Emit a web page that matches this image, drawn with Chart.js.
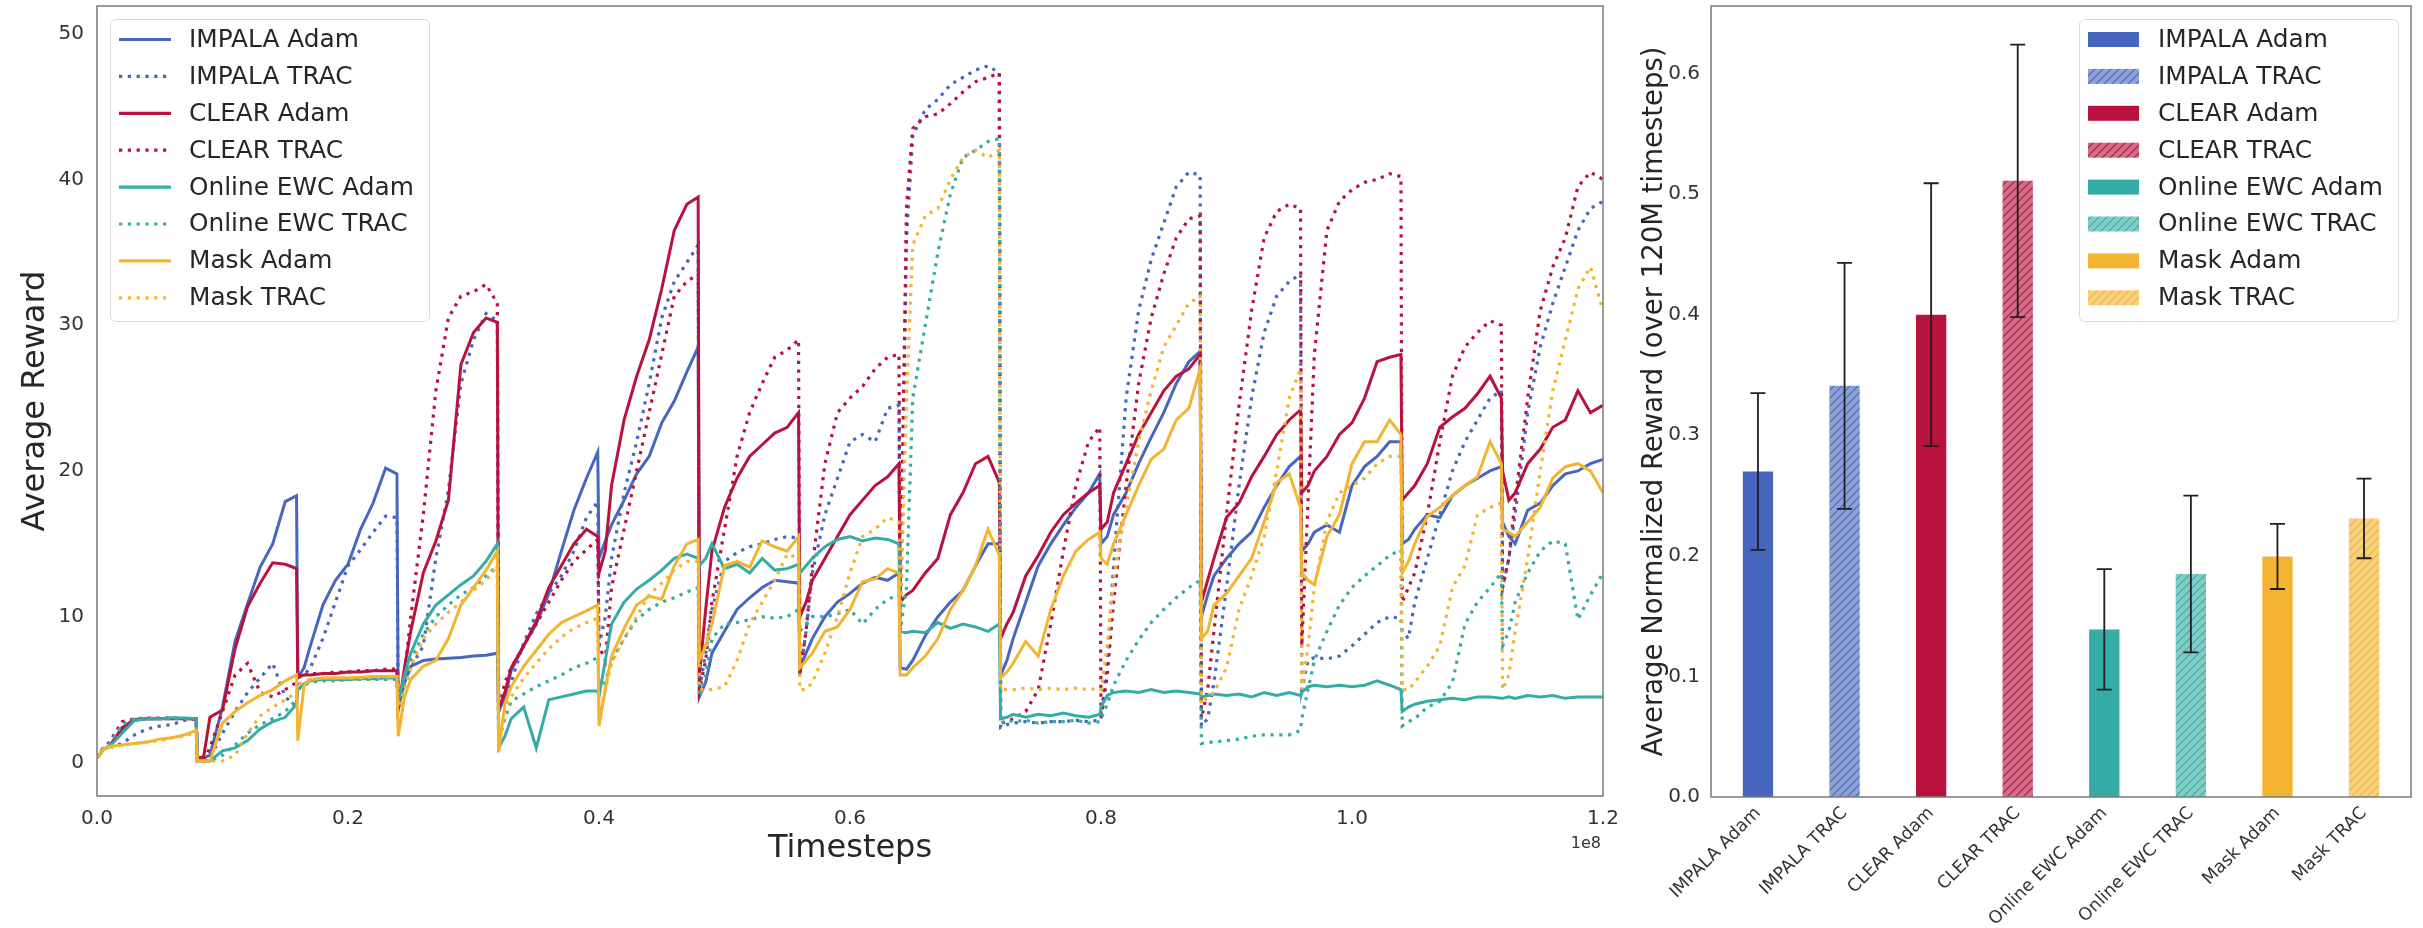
<!DOCTYPE html>
<html><head><meta charset="utf-8">
<script src="https://cdn.jsdelivr.net/npm/chart.js@4.4.1/dist/chart.umd.min.js"></script>
<style>
html,body{margin:0;padding:0;background:#fff;width:2423px;height:928px;overflow:hidden;}
#c1{position:absolute;left:0;top:0;}
#c2{position:absolute;left:1620px;top:0;}
</style></head><body>
<canvas id="c1" width="1620" height="928"></canvas>
<canvas id="c2" width="803" height="928"></canvas>
<script>
// ---------------- DATA ----------------
// time grid, in millions of timesteps (10 samples per 8M task segment)
const timeM = [
 0,0.5,1,2,3,4,5,6,7,7.9,
 8,8.5,9,10,11,12,13,14,15,15.9,
 16,16.5,17,18,19,20,21,22,23,23.9,
 24,24.5,25,26,27,28,29,30,31,31.9,
 32,32.5,33,34,35,36,37,38,39,39.9,
 40,40.5,41,42,43,44,45,46,47,47.9,
 48,48.5,49,50,51,52,53,54,55,55.9,
 56,56.5,57,58,59,60,61,62,63,63.9,
 64,64.5,65,66,67,68,69,70,71,71.9,
 72,72.5,73,74,75,76,77,78,79,79.9,
 80,80.5,81,82,83,84,85,86,87,87.9,
 88,88.5,89,90,91,92,93,94,95,95.9,
 96,96.5,97,98,99,100,101,102,103,103.9,
 104,104.5,105,106,107,108,109,110,111,111.9,
 112,112.5,113,114,115,116,117,118,119,120
];
const impalaAdam = [
 0.3,0.9,1.1,2.2,2.9,3.0,3.0,3.05,3.0,3.0,
 0.3,0.3,0.5,3.8,8.3,10.9,13.4,15.0,17.9,18.3,
 5.8,6.5,8.0,10.8,12.5,13.6,16.0,17.8,20.2,19.8,
 3.8,5.5,6.6,7.0,7.1,7.15,7.2,7.3,7.35,7.5,
 3.5,4.5,6.3,8.0,9.5,11.6,14.5,17.3,19.5,21.3,
 14.0,15.2,16.3,18.0,19.8,21.0,23.3,24.8,26.8,28.5,
 4.5,5.5,7.5,9.0,10.5,11.3,12.0,12.5,12.4,12.3,
 6.5,7.5,8.5,10.0,11.0,11.6,12.3,12.7,12.5,13.0,
 6.5,6.4,7.0,8.7,10.0,11.0,11.8,13.5,15.0,15.0,
 6.0,7.0,8.5,11.0,13.5,15.0,16.3,17.5,18.5,19.8,
 15.0,15.5,17.0,18.5,20.5,22.3,24.0,26.0,27.5,28.2,
 10.0,11.5,12.8,14.0,15.0,15.8,17.5,19.0,20.3,21.0,
 14.5,15.0,15.8,16.3,15.8,19.0,20.3,21.0,22.0,22.0,
 15.0,15.3,16.0,17.0,16.8,18.3,19.0,19.5,20.0,20.3,
 16.5,15.5,15.0,17.3,17.8,19.0,19.8,20.0,20.5,20.8
];
const impalaTrac = [
 0.3,0.9,1.1,1.3,1.9,2.3,2.5,2.6,2.9,3.0,
 0.1,0.1,0.3,2.0,3.5,4.8,5.8,6.8,4.5,3.8,
 5.8,6.0,6.5,8.5,11.0,13.5,14.6,15.8,16.9,16.8,
 3.8,5.5,6.5,8.0,14.0,18.7,26.0,29.0,30.8,30.3,
 3.5,4.5,5.5,8.2,10.2,11.6,12.8,14.5,16.8,17.9,
 8.0,10.0,14.0,18.5,22.0,26.0,30.5,33.0,34.3,35.5,
 5.0,7.5,10.5,13.8,14.4,14.8,15.0,15.3,15.5,15.4,
 6.0,9.0,13.0,17.0,19.5,22.0,22.5,22.0,24.3,24.5,
 9.0,36.0,43.0,44.8,45.5,46.5,47.0,47.5,47.8,47.3,
 2.4,2.6,2.7,2.8,2.7,2.8,2.8,2.9,2.8,2.9,
 3.0,7.0,13.5,25.0,31.0,34.5,37.0,39.5,40.5,40.3,
 2.5,3.0,5.5,12.0,19.0,25.0,29.5,32.0,33.0,33.5,
 5.0,7.0,7.2,7.1,7.3,8.0,8.8,9.6,10.0,9.9,
 9.0,8.5,11.0,14.0,17.0,20.0,22.0,23.5,25.0,25.5,
 12.0,14.0,17.0,24.0,28.5,31.5,34.0,36.5,38.0,38.5
];
const clearAdam = [
 0.3,0.9,1.1,2.4,2.95,3.0,3.0,3.0,3.0,3.0,
 0.3,0.4,3.1,3.6,7.8,10.7,12.3,13.7,13.6,13.3,
 5.9,6.0,6.0,6.1,6.1,6.2,6.2,6.3,6.3,6.3,
 3.5,6.5,9.0,13.0,15.2,18.0,27.3,29.5,30.5,30.2,
 3.7,4.8,6.5,8.0,9.7,12.0,13.5,15.0,16.0,15.5,
 13.0,14.5,19.0,23.5,26.5,29.0,32.5,36.5,38.3,38.8,
 6.0,10.5,14.5,17.5,19.5,21.0,21.8,22.6,23.0,24.0,
 10.0,11.0,12.5,14.0,15.5,17.0,18.0,19.0,19.6,20.5,
 11.0,11.5,11.8,13.0,14.0,17.0,18.5,20.5,21.0,19.2,
 8.5,9.5,10.3,12.8,14.2,15.8,17.0,17.8,18.5,19.0,
 16.0,16.5,18.5,20.5,22.5,24.0,25.5,26.5,27.0,28.0,
 11.0,12.5,14.0,16.8,17.8,19.6,21.0,22.5,23.5,24.2,
 18.5,19.0,20.0,21.0,22.5,23.3,25.0,27.5,27.8,28.0,
 18.0,18.5,19.0,20.5,23.0,23.7,24.3,25.3,26.5,25.0,
 20.0,18.0,18.5,20.5,21.5,23.0,23.5,25.5,24.0,24.5
];
const clearTrac = [
 0.3,1.0,1.4,2.8,3.0,3.05,3.05,3.05,3.0,3.0,
 0.1,0.2,1.0,3.5,6.0,6.8,4.8,4.5,5.0,5.5,
 5.9,6.0,6.1,6.1,6.2,6.2,6.3,6.3,6.4,6.4,
 3.5,6.0,10.0,17.0,25.5,30.5,32.0,32.3,32.8,31.5,
 3.5,5.5,6.5,8.0,9.5,11.0,12.5,13.8,14.6,15.3,
 8.0,7.0,12.0,16.0,20.0,24.0,28.0,32.0,33.0,33.5,
 5.0,7.0,11.0,16.0,21.0,24.0,26.0,27.8,28.3,29.0,
 6.0,9.0,13.5,20.5,24.0,25.0,25.8,27.0,27.8,28.0,
 10.0,38.0,43.5,44.3,44.5,45.2,46.0,46.7,47.0,47.3,
 2.7,2.8,3.0,3.5,5.0,9.5,14.5,19.0,22.0,23.0,
 3.0,6.0,11.0,19.0,26.0,30.5,33.5,36.0,37.3,37.5,
 3.0,5.0,9.0,17.0,24.5,31.0,36.0,37.8,38.3,38.0,
 8.0,18.0,28.0,36.5,38.5,39.3,39.8,40.0,40.4,40.2,
 11.0,12.0,13.0,17.0,22.0,26.5,28.5,29.5,30.3,30.0,
 12.0,14.0,18.0,25.0,31.0,34.0,36.0,39.5,40.5,40.0
];
const ewcAdam = [
 0.3,0.9,1.1,2.0,2.9,3.0,3.0,3.05,3.05,3.0,
 0.1,0.1,0.1,0.8,1.0,1.5,2.3,2.8,3.1,4.0,
 5.0,5.4,5.6,5.7,5.7,5.7,5.75,5.75,5.8,5.8,
 4.0,6.0,7.5,9.5,10.8,11.5,12.2,12.8,13.8,15.0,
 1.0,1.8,3.0,3.8,1.0,4.3,4.5,4.7,4.9,4.9,
 4.5,7.0,9.5,11.0,11.9,12.5,13.2,14.0,14.3,14.0,
 13.5,14.0,15.0,13.3,13.6,13.0,14.0,13.2,13.3,13.6,
 13.0,13.5,14.0,14.8,15.3,15.5,15.2,15.4,15.3,15.0,
 9.0,8.9,9.0,8.9,9.6,9.2,9.5,9.3,9.0,9.5,
 3.0,3.1,3.3,3.1,3.3,3.2,3.4,3.2,3.1,3.3,
 3.8,4.6,4.8,4.9,4.8,5.0,4.8,4.9,4.8,4.7,
 4.5,4.6,4.7,4.6,4.7,4.5,4.8,4.6,4.8,4.6,
 4.8,5.2,5.3,5.2,5.3,5.2,5.3,5.6,5.3,5.0,
 3.5,3.8,4.0,4.2,4.3,4.4,4.3,4.5,4.5,4.4,
 4.4,4.5,4.4,4.6,4.5,4.6,4.4,4.5,4.5,4.5
];
const ewcTrac = [
 0.3,1.0,1.3,2.6,3.0,3.0,3.0,3.0,3.0,3.0,
 0.1,0.1,0.1,0.5,1.2,2.0,2.6,3.0,3.5,4.3,
 5.0,5.3,5.5,5.6,5.6,5.7,5.7,5.7,5.7,5.7,
 3.8,5.5,7.0,8.8,10.0,10.8,11.5,12.0,12.8,13.5,
 1.5,3.0,4.2,4.7,5.2,5.6,6.0,6.5,6.8,7.2,
 5.0,5.5,7.0,8.5,9.8,10.5,11.0,11.3,11.7,12.0,
 4.5,6.0,8.5,9.5,9.6,9.8,10.0,9.9,10.0,10.5,
 9.0,9.5,10.0,10.0,10.2,10.5,9.5,10.5,11.2,11.5,
 9.0,12.0,25.0,30.0,35.0,39.0,41.5,42.0,42.6,42.8,
 2.7,2.9,2.8,2.9,2.7,2.8,2.8,2.9,2.7,2.8,
 3.0,4.0,5.3,7.0,8.4,9.6,10.5,11.3,12.0,12.5,
 1.3,1.4,1.4,1.5,1.6,1.8,1.9,1.9,1.9,2.2,
 3.0,5.0,7.0,9.0,10.8,12.0,12.8,13.5,14.2,14.6,
 2.5,2.8,3.0,3.8,4.2,5.5,9.5,11.0,12.0,13.0,
 8.0,9.0,11.0,13.0,14.5,15.2,15.0,9.8,11.5,13.0
];
const maskAdam = [
 0.3,0.9,1.1,1.2,1.3,1.4,1.6,1.7,1.9,2.2,
 0.1,0.1,0.1,2.7,3.5,4.1,4.6,5.0,5.6,6.0,
 1.5,5.3,5.7,5.8,5.8,5.8,5.85,5.9,5.9,5.9,
 1.8,4.5,5.7,6.6,7.0,8.5,10.8,12.0,13.2,14.5,
 0.7,4.0,5.2,6.6,7.7,8.8,9.6,10.0,10.4,10.8,
 2.5,5.0,7.3,9.2,10.8,11.4,11.2,13.5,15.0,15.3,
 7.0,8.0,9.5,13.5,13.8,13.4,15.2,14.8,14.5,15.5,
 6.5,7.0,7.5,9.0,9.3,10.5,12.4,12.6,13.3,13.0,
 6.0,6.0,6.5,7.3,8.5,10.5,11.8,13.5,16.0,14.2,
 5.8,6.2,6.8,8.3,7.3,10.5,12.8,14.5,15.3,15.8,
 14.0,13.6,15.0,17.0,19.0,20.8,21.5,23.5,24.3,27.0,
 8.5,9.0,10.8,11.6,12.8,14.0,16.5,19.2,19.8,17.5,
 13.0,12.5,12.2,15.5,17.0,20.5,22.0,22.0,23.5,22.5,
 13.0,13.8,15.0,16.9,17.5,18.3,19.0,19.6,22.0,20.5,
 16.0,15.8,15.5,16.5,17.5,19.5,20.3,20.5,20.0,18.5
];
const maskTrac = [
 0.3,0.9,1.0,1.2,1.3,1.4,1.5,1.7,1.8,2.1,
 0.1,0.1,0.1,0.1,0.5,2.0,3.2,3.8,4.3,4.8,
 5.3,5.6,5.7,5.8,5.8,5.8,5.8,5.85,5.85,5.9,
 3.5,5.0,6.5,8.5,9.5,10.3,11.0,11.8,12.5,13.5,
 1.5,3.5,4.5,5.8,6.8,7.8,8.6,9.2,9.6,9.9,
 3.0,5.0,6.8,8.5,10.0,11.5,12.3,13.2,13.8,13.8,
 5.0,5.0,5.0,5.2,7.0,9.5,11.0,12.5,14.3,14.0,
 5.0,5.0,5.5,7.5,10.0,13.0,15.5,16.0,16.8,16.5,
 9.5,25.0,35.5,37.5,38.0,40.0,41.5,42.0,41.5,42.0,
 5.0,5.0,5.0,5.1,5.0,5.1,5.0,5.1,5.0,5.1,
 5.0,8.0,12.5,17.5,22.0,25.5,28.5,30.0,31.5,32.0,
 4.0,4.5,4.8,6.5,10.5,12.8,15.5,20.0,25.0,27.0,
 5.0,8.0,12.0,16.5,18.5,19.0,19.5,20.5,21.0,21.0,
 5.0,5.0,5.5,6.6,8.0,12.0,13.5,17.0,17.5,17.8,
 5.0,6.0,9.0,14.0,20.0,25.5,29.0,32.5,34.0,31.0
];
const seriesNames = ['IMPALA Adam','IMPALA TRAC','CLEAR Adam','CLEAR TRAC','Online EWC Adam','Online EWC TRAC','Mask Adam','Mask TRAC'];
const xTickValues = [0,20,40,60,80,100,120];
const xTickLabels = ['0.0','0.2','0.4','0.6','0.8','1.0','1.2'];
const yTicksLeft = [0,10,20,30,40,50];
const barCategories = ['IMPALA Adam','IMPALA TRAC','CLEAR Adam','CLEAR TRAC','Online EWC Adam','Online EWC TRAC','Mask Adam','Mask TRAC'];
const barMeans  = [0.270,0.341,0.400,0.511,0.139,0.185,0.1995,0.231];
const barErrors = [0.065,0.102,0.109,0.113,0.050,0.065,0.027,0.033];
const yTicksRight = [0.0,0.1,0.2,0.3,0.4,0.5,0.6];

// ---------------- STYLE ----------------
const FONT = "'DejaVu Sans', sans-serif";
const COL = {impala:'#4767bf', clear:'#b8123e', ewc:'#35aca6', mask:'#f3b431'};
const LIGHT = {impala:'rgba(71,103,191,0.62)', clear:'rgba(184,18,62,0.62)', ewc:'rgba(53,172,166,0.62)', mask:'rgba(243,180,49,0.62)'};
const groups = ['impala','impala','clear','clear','ewc','ewc','mask','mask'];
const TEXT = '#262626';
const TICK = '#333333';
const DOT = [3.2, 5.6];

function hatch(fill, line){
  const s = 8, c = document.createElement('canvas'); c.width = s; c.height = s;
  const g = c.getContext('2d');
  g.fillStyle = '#fff'; g.fillRect(0,0,s,s);
  g.fillStyle = fill; g.fillRect(0,0,s,s);
  g.strokeStyle = line; g.lineWidth = 1.1;
  g.beginPath();
  g.moveTo(-1, s+1); g.lineTo(s+1, -1);
  g.moveTo(-s/2-1, s/2+1); g.lineTo(s/2+1, -s/2-1);
  g.moveTo(s/2-1, s*1.5+1); g.lineTo(s*1.5+1, s/2-1);
  g.stroke();
  return g.createPattern(c, 'repeat');
}

const frame = {
  id:'frame',
  afterDraw(chart){
    const {ctx, chartArea:a} = chart;
    ctx.save(); ctx.strokeStyle = '#7a7a7a'; ctx.lineWidth = 1.5;
    ctx.strokeRect(a.left, a.top, a.right-a.left, a.bottom-a.top);
    ctx.restore();
  }
};

const boxLegend = {
  id:'boxLegend',
  afterDraw(chart, args, opts){
    const {ctx, chartArea:a} = chart;
    const w = 319, h = 302;
    const bx = opts.side === 'left' ? a.left + 13 : a.right - 13 - w;
    const by = a.top + 13;
    ctx.save();
    ctx.beginPath();
    if (ctx.roundRect) ctx.roundRect(bx+0.5, by+0.5, w, h, 5); else ctx.rect(bx+0.5, by+0.5, w, h);
    ctx.fillStyle = 'rgba(255,255,255,0.85)'; ctx.fill();
    ctx.strokeStyle = '#dadada'; ctx.lineWidth = 1; ctx.stroke();
    ctx.font = '24.8px ' + FONT; ctx.textBaseline = 'middle'; ctx.fillStyle = TEXT;
    seriesNames.forEach((name, i) => {
      const cy = by + 20.5 + i*36.9;
      const g = groups[i], trac = i % 2 === 1;
      if (opts.kind === 'line') {
        ctx.beginPath(); ctx.strokeStyle = COL[g]; ctx.lineWidth = 3.2;
        ctx.setLineDash(trac ? DOT : []);
        ctx.moveTo(bx+9, cy); ctx.lineTo(bx+61, cy); ctx.stroke(); ctx.setLineDash([]);
      } else {
        ctx.fillStyle = trac ? hatch(LIGHT[g], COL[g]) : COL[g];
        ctx.fillRect(bx+9, cy-7.5, 51, 15);
      }
      ctx.fillStyle = TEXT;
      ctx.fillText(name, bx + 79, cy + 1);
    });
    ctx.restore();
  }
};

const offsetText = {
  id:'offsetText',
  afterDraw(chart){
    const {ctx, chartArea:a} = chart;
    ctx.save(); ctx.font = '16px ' + FONT; ctx.fillStyle = TICK;
    ctx.textAlign = 'right'; ctx.textBaseline = 'alphabetic';
    ctx.fillText('1e8', a.right - 2, 848);
    ctx.restore();
  }
};

const errorBars = {
  id:'errorBars',
  afterDatasetsDraw(chart){
    const {ctx, scales:{x, y}} = chart;
    ctx.save(); ctx.strokeStyle = '#1e1e1e'; ctx.lineWidth = 1.8;
    barMeans.forEach((m, i) => {
      const px = x.getPixelForValue(i);
      const t = y.getPixelForValue(m + barErrors[i]);
      const b = y.getPixelForValue(m - barErrors[i]);
      ctx.beginPath();
      ctx.moveTo(px, t); ctx.lineTo(px, b);
      ctx.moveTo(px-7.5, t); ctx.lineTo(px+7.5, t);
      ctx.moveTo(px-7.5, b); ctx.lineTo(px+7.5, b);
      ctx.stroke();
    });
    ctx.restore();
  }
};

// ---------------- LEFT: line chart ----------------
const lineData = [impalaAdam, impalaTrac, clearAdam, clearTrac, ewcAdam, ewcTrac, maskAdam, maskTrac];
const lineDatasets = lineData.map((arr, i) => ({
  label: seriesNames[i],
  data: timeM.map((t, k) => ({x: t, y: arr[k]})),
  borderColor: COL[groups[i]],
  borderWidth: i % 2 ? 3.2 : 3,
  borderDash: i % 2 ? DOT : [],
  borderCapStyle: 'butt',
  pointRadius: 0,
  tension: 0,
  fill: false,
  order: 8 - i
}));

new Chart(document.getElementById('c1'), {
  type: 'line',
  data: { datasets: lineDatasets },
  options: {
    responsive: false, animation: false, devicePixelRatio: 1,
    layout: { padding: {left: 0, top: 6, right: 17, bottom: 0} },
    plugins: { legend: {display: false}, tooltip: {enabled: false},
               boxLegend: {side: 'left', kind: 'line'} },
    scales: {
      x: {
        type: 'linear', min: 0, max: 120,
        grid: {display: false, drawTicks: false}, border: {display: false},
        afterBuildTicks: ax => { ax.ticks = xTickValues.map(v => ({value: v})); },
        ticks: {callback: (v, i) => xTickLabels[i], autoSkip: false, maxRotation: 0,
                font: {family: FONT, size: 20}, color: TICK, padding: 11},
        title: {display: true, text: 'Timesteps', color: TEXT,
                font: {family: FONT, size: 32}, padding: {top: 0, bottom: 60}},
        afterFit: s => { s.height = 132; s.paddingLeft = 0; s.paddingRight = 0; }
      },
      y: {
        type: 'linear', min: -2.3, max: 51.9,
        grid: {display: false, drawTicks: false}, border: {display: false},
        afterBuildTicks: ax => { ax.ticks = yTicksLeft.map(v => ({value: v})); },
        ticks: {font: {family: FONT, size: 20}, color: TICK, padding: 13},
        title: {display: true, text: 'Average Reward', color: TEXT,
                font: {family: FONT, size: 32}, padding: {top: 16, bottom: 0}},
        afterFit: s => { s.width = 97; s.paddingTop = 0; s.paddingBottom = 0; }
      }
    }
  },
  plugins: [frame, boxLegend, offsetText]
});

// ---------------- RIGHT: bar chart ----------------
const barFills = barCategories.map((c, i) => i % 2 ? hatch(LIGHT[groups[i]], COL[groups[i]]) : COL[groups[i]]);
new Chart(document.getElementById('c2'), {
  type: 'bar',
  data: { datasets: [{
    label: 'Average Normalized Reward',
    data: barCategories.map((c, i) => ({x: i, y: barMeans[i]})),
    backgroundColor: barFills,
    borderWidth: 0,
    categoryPercentage: 1, barPercentage: 0.35
  }]},
  options: {
    responsive: false, animation: false, devicePixelRatio: 1,
    layout: { padding: {left: 0, top: 6, right: 12, bottom: 0} },
    plugins: { legend: {display: false}, tooltip: {enabled: false},
               boxLegend: {side: 'right', kind: 'bar'} },
    scales: {
      x: {
        type: 'linear', min: -0.5425, max: 7.5425, offset: false,
        grid: {display: false, drawTicks: false}, border: {display: false},
        afterBuildTicks: ax => { ax.ticks = barCategories.map((c, i) => ({value: i})); },
        ticks: {callback: (v, i) => barCategories[i], autoSkip: false, minRotation: 45, maxRotation: 45,
                font: {family: FONT, size: 17.5}, color: TICK, padding: 6},
        afterFit: s => { s.height = 131; s.paddingLeft = 0; s.paddingRight = 0; }
      },
      y: {
        type: 'linear', min: 0, max: 0.656,
        grid: {display: false, drawTicks: false}, border: {display: false},
        afterBuildTicks: ax => { ax.ticks = yTicksRight.map(v => ({value: v})); },
        ticks: {callback: v => v.toFixed(1), font: {family: FONT, size: 20}, color: TICK, padding: 11},
        title: {display: true, text: 'Average Normalized Reward (over 120M timesteps)', color: TEXT,
                font: {family: FONT, size: 27.5}, padding: {top: 18, bottom: 0}},
        afterFit: s => { s.width = 91; s.paddingTop = 0; s.paddingBottom = 0; }
      }
    }
  },
  plugins: [frame, errorBars, boxLegend]
});
</script>
</body></html>
